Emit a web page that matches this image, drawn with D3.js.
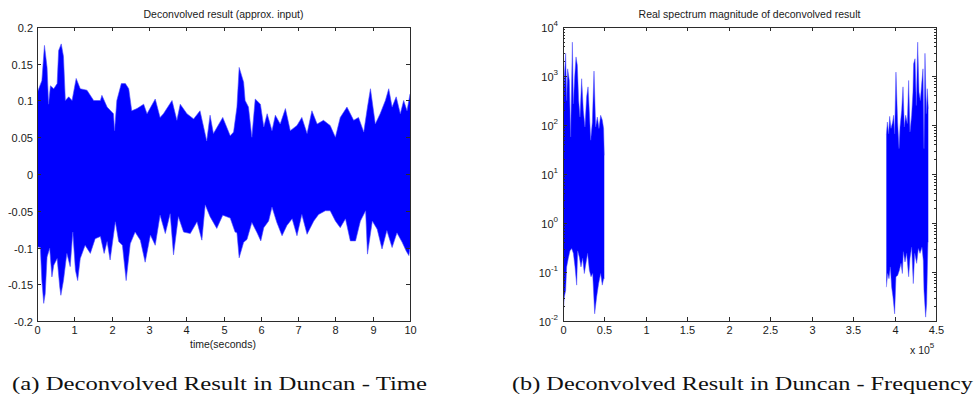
<!DOCTYPE html>
<html>
<head>
<meta charset="utf-8">
<script src="https://cdn.jsdelivr.net/npm/d3@7"></script>
<style>
  body { margin: 0; background: #fff; }
  text { font-family: "Liberation Sans", Arial, sans-serif; fill: #1a1a1a; }
  .caption { font-family: "Liberation Serif", "DejaVu Serif", serif; fill: #111; }
</style>
</head>
<body>
<svg id="chart" width="979" height="401"></svg>
<script>
// Time domain signal envelope (seconds -> amplitude)
const timeUpperT = [0, 0.13, 0.2, 0.27, 0.31, 0.36, 0.45, 0.54, 0.58, 0.65, 0.71, 0.76, 0.85, 0.94, 1.05, 1.16, 1.34, 1.52, 1.7, 1.74,
  1.88, 2.05, 2.08, 2.14, 2.26, 2.37, 2.46, 2.54, 2.68, 2.86, 2.95, 3.17, 3.3, 3.39, 3.62, 3.75, 3.84, 4.02, 4.2, 4.37,
  4.55, 4.64, 4.73, 4.98, 5.18, 5.27, 5.36, 5.42, 5.54, 5.58, 5.67, 5.76, 5.85, 5.99, 6.08, 6.17, 6.3, 6.39, 6.52, 6.66,
  6.79, 6.97, 7.1, 7.24, 7.37, 7.51, 7.68, 7.86, 8.0, 8.13, 8.31, 8.49, 8.62, 8.76, 8.86, 8.94, 9.07, 9.2, 9.34, 9.43,
  9.52, 9.63, 9.74, 9.83, 9.92, 10];
const timeUpper = [0.11, 0.127, 0.175, 0.145, 0.095, 0.12, 0.116, 0.123, 0.168, 0.177, 0.16, 0.1, 0.105, 0.1, 0.13, 0.116, 0.114, 0.1, 0.1, 0.107,
  0.091, 0.082, 0.059, 0.1, 0.123, 0.123, 0.116, 0.086, 0.089, 0.095, 0.082, 0.102, 0.077, 0.082, 0.1, 0.073, 0.095, 0.082, 0.075, 0.086,
  0.045, 0.08, 0.055, 0.077, 0.052, 0.057, 0.091, 0.145, 0.125, 0.1, 0.091, 0.05, 0.102, 0.095, 0.064, 0.082, 0.059, 0.08, 0.068, 0.089,
  0.059, 0.066, 0.077, 0.055, 0.086, 0.068, 0.073, 0.066, 0.05, 0.077, 0.091, 0.073, 0.077, 0.057, 0.091, 0.116, 0.068, 0.082, 0.1, 0.116,
  0.091, 0.105, 0.082, 0.1, 0.086, 0.109];
const timeLowerT = [0, 0.09, 0.13, 0.18, 0.22, 0.27, 0.34, 0.4, 0.45, 0.54, 0.61, 0.64, 0.71, 0.8, 0.89, 0.96, 1.03, 1.09, 1.16, 1.29,
  1.43, 1.56, 1.7, 1.8, 1.88, 1.96, 2.1, 2.19, 2.29, 2.39, 2.5, 2.63, 2.77, 2.9, 3.04, 3.17, 3.3, 3.44, 3.57, 3.66,
  3.79, 3.93, 4.11, 4.29, 4.42, 4.51, 4.64, 4.82, 4.98, 5.18, 5.31, 5.36, 5.42, 5.54, 5.63, 5.76, 5.9, 6.0, 6.08, 6.21,
  6.3, 6.43, 6.57, 6.7, 6.84, 6.97, 7.1, 7.24, 7.42, 7.55, 7.73, 7.86, 8.0, 8.13, 8.27, 8.4, 8.54, 8.67, 8.81, 8.86,
  8.99, 9.12, 9.25, 9.38, 9.52, 9.65, 9.79, 9.9, 9.97, 10];
const timeLower = [-0.099, -0.1, -0.145, -0.176, -0.163, -0.113, -0.101, -0.14, -0.124, -0.115, -0.154, -0.165, -0.145, -0.108, -0.126, -0.079, -0.131, -0.145, -0.115, -0.097,
  -0.108, -0.088, -0.085, -0.108, -0.092, -0.117, -0.065, -0.092, -0.097, -0.145, -0.095, -0.079, -0.09, -0.12, -0.083, -0.097, -0.056, -0.081, -0.054, -0.11,
  -0.058, -0.079, -0.081, -0.065, -0.09, -0.042, -0.058, -0.074, -0.056, -0.06, -0.079, -0.08, -0.114, -0.093, -0.089, -0.066, -0.08, -0.091, -0.073, -0.064,
  -0.045, -0.066, -0.084, -0.07, -0.061, -0.084, -0.055, -0.082, -0.064, -0.055, -0.05, -0.05, -0.064, -0.073, -0.061, -0.091, -0.091, -0.064, -0.05, -0.109,
  -0.064, -0.075, -0.102, -0.077, -0.1, -0.08, -0.093, -0.105, -0.111, -0.1];
const timeTicks = [0, 1, 2, 3, 4, 5, 6, 7, 8, 9, 10];
const ampTicks = [-0.2, -0.15, -0.1, -0.05, 0, 0.05, 0.1, 0.15, 0.2];

// Spectrum envelope, two bands (Hz -> magnitude)
const lowBandUpperF = [0, 1600, 3200, 4400, 5600, 7600, 9200, 11300, 12500, 14100, 15700, 17300, 18900, 20500, 22500,
  24500, 26500, 28500, 30200, 31800, 33400, 35400, 37400, 39400, 41400, 43400, 45400, 47400, 49000, 49800];
const lowBandUpper = [135, 950, 2900, 315, 1400, 810, 57, 4900, 270, 950, 2450, 1650, 315, 145, 880,
  200, 91, 375, 600, 185, 49, 115, 1260, 91, 145, 85, 158, 126, 85, 24];
const lowBandLowerF = [0, 1600, 3200, 4400, 6400, 8400, 10500, 12500, 14500, 16500, 17700, 19700, 21700, 23700,
  25700, 27700, 29700, 31800, 33800, 35800, 38200, 40600, 43000, 45400, 47400, 49000, 49800];
const lowBandLower = [0.012, 0.031, 0.042, 0.127, 0.19, 0.27, 0.3, 0.24, 0.127, 0.054, 0.27, 0.2, 0.127, 0.19,
  0.093, 0.15, 0.24, 0.108, 0.08, 0.093, 0.014, 0.031, 0.058, 0.093, 0.054, 0.073, 0.073];
const highBandUpperF = [390100, 391300, 392900, 394100, 395700, 397700, 398900, 400100, 401700, 403700, 405400, 406600,
  408600, 410200, 411800, 413400, 415400, 417000, 418600, 420600, 422200, 423000, 424700, 426300, 427900, 429500,
  431100, 432700, 434300, 435500, 436700, 438300, 439500, 440700];
const highBandUpper = [62, 115, 66, 150, 85, 115, 158, 66, 1200, 115, 33, 91,
  200, 600, 91, 158, 107, 810, 72, 158, 470, 1780, 2250, 250, 4900, 470,
  315, 690, 1400, 33, 2900, 170, 550, 215];
const highBandLowerF = [390100, 391700, 393300, 394900, 396500, 398100, 400100, 401700, 403700, 405800, 407800, 409400,
  410600, 412600, 414600, 417000, 418600, 420600, 422600, 424300, 426700, 428700, 430700, 433100, 434700, 435500,
  437500, 438700, 440300, 440700];
const highBandLower = [0.049, 0.093, 0.073, 0.127, 0.049, 0.031, 0.014, 0.08, 0.085, 0.108, 0.15, 0.093,
  0.26, 0.16, 0.24, 0.08, 0.19, 0.32, 0.058, 0.24, 0.15, 0.3, 0.24, 0.32, 0.17, 0.042,
  0.012, 0.022, 0.41, 0.41];
const freqTicks = [0, 50000, 100000, 150000, 200000, 250000, 300000, 350000, 400000, 450000];
const freqTickLabels = ["0", "0.5", "1", "1.5", "2", "2.5", "3", "3.5", "4", "4.5"];
const decades = [-2, -1, 0, 1, 2, 3, 4];

const svg = d3.select("#chart");
const blue = "#0000ff";
const edgeBlue = "#4d4dff";
const axisColor = "#2b2b2b";
const plotTop = 27, plotBottom = 321;

// ---------- left panel: time domain ----------
const xT = d3.scaleLinear().domain([0, 10]).range([37, 410]);
const yA = d3.scaleLinear().domain([-0.2, 0.2]).range([plotBottom, plotTop]);

svg.append("clipPath").attr("id", "clipA")
  .append("rect").attr("x", 37).attr("y", plotTop).attr("width", 373).attr("height", plotBottom - plotTop);

const gA = svg.append("g").attr("clip-path", "url(#clipA)");
const areaUp = d3.area().x(d => xT(d[0])).y0(yA(0)).y1(d => yA(d[1]));
const edgeA = d3.line().x(d => xT(d[0])).y(d => yA(d[1]));
[[timeUpperT, timeUpper], [timeLowerT, timeLower]].forEach(([t, v]) => {
  const pts = d3.zip(t, v);
  gA.append("path").datum(pts).attr("d", areaUp).attr("fill", blue);
  gA.append("path").datum(pts).attr("d", edgeA)
    .attr("fill", "none").attr("stroke", edgeBlue).attr("stroke-width", 0.6);
});

// ---------- right panel: spectrum ----------
const xF = d3.scaleLinear().domain([0, 450000]).range([563, 936]);
const yM = d3.scaleLog().domain([0.01, 10000]).range([plotBottom, plotTop]);

svg.append("clipPath").attr("id", "clipB")
  .append("rect").attr("x", 563).attr("y", plotTop).attr("width", 373).attr("height", plotBottom - plotTop);

const gB = svg.append("g").attr("clip-path", "url(#clipB)");
const areaLog = d3.area().x(d => xF(d[0])).y0(yM(1)).y1(d => yM(d[1]));
const edgeB = d3.line().x(d => xF(d[0])).y(d => yM(d[1]));
[[lowBandUpperF, lowBandUpper], [lowBandLowerF, lowBandLower],
 [highBandUpperF, highBandUpper], [highBandLowerF, highBandLower]].forEach(([f, v]) => {
  const pts = d3.zip(f, v);
  gB.append("path").datum(pts).attr("d", areaLog).attr("fill", blue);
  gB.append("path").datum(pts).attr("d", edgeB)
    .attr("fill", "none").attr("stroke", edgeBlue).attr("stroke-width", 0.5);
});

// ---------- frames and ticks (MATLAB style, inward ticks on all sides) ----------
function frame(x0, x1) {
  svg.append("rect").attr("x", x0 + 0.5).attr("y", plotTop + 0.5)
    .attr("width", x1 - x0).attr("height", plotBottom - plotTop)
    .attr("fill", "none").attr("stroke", axisColor).attr("stroke-width", 1);
}

function tick(x1, y1, x2, y2) {
  svg.append("line").attr("x1", x1).attr("y1", y1).attr("x2", x2).attr("y2", y2)
    .attr("stroke", axisColor).attr("stroke-width", 1);
}

frame(37, 410);
timeTicks.forEach(t => {
  const x = Math.round(xT(t)) + 0.5;
  tick(x, plotBottom, x, plotBottom - 4);
  tick(x, plotTop, x, plotTop + 4);
  svg.append("text").attr("x", x).attr("y", 334).attr("text-anchor", "middle")
    .attr("font-size", 11).text(t);
});
ampTicks.forEach(v => {
  const y = Math.round(yA(v)) + 0.5;
  tick(37, y, 41, y);
  tick(410, y, 406, y);
  svg.append("text").attr("x", 33).attr("y", y + 4).attr("text-anchor", "end")
    .attr("font-size", 11).text(+v.toFixed(2));
});
svg.append("text").attr("x", 223.5).attr("y", 18).attr("text-anchor", "middle")
  .attr("font-size", 10.5).text("Deconvolved result (approx. input)");
svg.append("text").attr("x", 223).attr("y", 348).attr("text-anchor", "middle")
  .attr("font-size", 10.5).text("time(seconds)");

frame(563, 936);
freqTicks.forEach((f, i) => {
  const x = Math.round(xF(f)) + 0.5;
  tick(x, plotBottom, x, plotBottom - 4);
  tick(x, plotTop, x, plotTop + 4);
  svg.append("text").attr("x", x).attr("y", 334).attr("text-anchor", "middle")
    .attr("font-size", 11).text(freqTickLabels[i]);
});
decades.forEach(k => {
  const y = Math.round(yM(Math.pow(10, k))) + 0.5;
  tick(563, y, 567, y);
  tick(936, y, 932, y);
  const label = svg.append("text").attr("x", 558).attr("y", y + 4)
    .attr("text-anchor", "end").attr("font-size", 11);
  label.append("tspan").text("10");
  label.append("tspan").attr("dy", -6).attr("font-size", 8).text(k);
  if (k < 4) {
    d3.range(2, 10).forEach(m => {
      const ym = Math.round(yM(m * Math.pow(10, k))) + 0.5;
      tick(563, ym, 565, ym);
      tick(936, ym, 934, ym);
    });
  }
});
svg.append("text").attr("x", 749.5).attr("y", 18).attr("text-anchor", "middle")
  .attr("font-size", 10.5).text("Real spectrum magnitude of deconvolved result");
const expLabel = svg.append("text").attr("x", 910).attr("y", 354).attr("font-size", 10.5);
expLabel.append("tspan").text("x 10");
expLabel.append("tspan").attr("dy", -6).attr("font-size", 8).text("5");

// ---------- sub-figure captions ----------
svg.append("text").attr("class", "caption").attr("x", 12).attr("y", 390)
  .attr("font-size", 19.5).attr("textLength", 415).attr("lengthAdjust", "spacingAndGlyphs")
  .text("(a) Deconvolved Result in Duncan - Time");
svg.append("text").attr("class", "caption").attr("x", 512).attr("y", 390)
  .attr("font-size", 19.5).attr("textLength", 461).attr("lengthAdjust", "spacingAndGlyphs")
  .text("(b) Deconvolved Result in Duncan - Frequency");
</script>
</body>
</html>
